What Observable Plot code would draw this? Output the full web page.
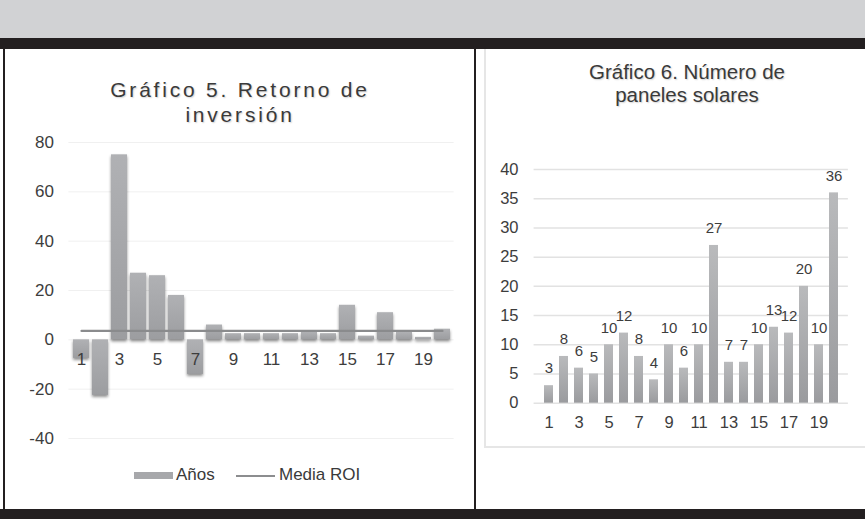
<!DOCTYPE html>
<html><head><meta charset="utf-8">
<script src="https://cdn.jsdelivr.net/npm/d3@7"></script>
<script src="https://cdn.jsdelivr.net/npm/@observablehq/plot@0.6"></script>
<style>
body{margin:0;width:865px;height:519px;position:relative;overflow:hidden;background:#fff;font-family:"Liberation Sans",Arial,sans-serif;color:#3d3d3d;}
.abs{position:absolute;}
.title{text-align:center;color:#3a3a3a;text-shadow:1px 1px 1.5px rgba(0,0,0,0.18);white-space:nowrap;}
</style></head><body>
<div class="abs" style="left:0;top:0;width:865px;height:38px;background:#d1d2d4"></div>
<div class="abs" style="left:0;top:38px;width:865px;height:11px;background:#231f20"></div>
<div class="abs" style="left:0;top:509px;width:865px;height:10px;background:#231f20"></div>
<div class="abs" style="left:3px;top:49px;width:2px;height:461px;background:#231f20"></div>
<div class="abs" style="left:474px;top:49px;width:2px;height:461px;background:#231f20"></div>
<div class="abs" style="left:484px;top:49px;width:400px;height:397px;border:2px solid #e6e6e6;border-top:none"></div>

<div class="abs title" style="left:5px;width:470px;top:77px;font-size:21px;line-height:25px;letter-spacing:2.8px">Gráfico 5. Retorno de<br>inversión</div>
<div class="abs title" style="left:486px;width:402px;top:60px;font-size:20.5px;line-height:23px">Gráfico 6. Número de<br>paneles solares</div>

<div id="left" class="abs" style="left:0;top:130px"></div>
<div id="right" class="abs" style="left:486px;top:130px"></div>

<div class="abs" style="left:134px;top:472px;width:39px;height:7px;background:#a7a8ab"></div>
<div class="abs" style="left:176px;top:465px;font-size:17px;line-height:20px;color:#3a3a3a">Años</div>
<div class="abs" style="left:236px;top:474.5px;width:39px;height:2px;background:#8c8d8f"></div>
<div class="abs" style="left:279px;top:465px;font-size:17px;line-height:20px;color:#3a3a3a">Media ROI</div>

<script>
const years = [1,2,3,4,5,6,7,8,9,10,11,12,13,14,15,16,17,18,19,20];
const roi = [-7.5,-22.5,75,27,26,18,-14,6,2.5,2.5,2.5,2.5,3,2.5,14,1.5,11,3,1,4.3];
const mediaROI = [3.6,3.6,3.6,3.6,3.6,3.6,3.6,3.6,3.6,3.6,3.6,3.6,3.6,3.6,3.6,3.6,3.6,3.6,3.6,3.6];
const panels = [3,8,6,5,10,12,8,4,10,6,10,27,7,7,10,13,12,20,10,36];
const xTickLabels = [1,3,5,7,9,11,13,15,17,19];
const yTicksLeft = [-40,-20,0,20,40,60,80];
const yTicksRight = [0,5,10,15,20,25,30,35,40];

const roiData = years.map((y,i)=>({year:y, roi:roi[i], media:mediaROI[i]}));
const panelData = years.map((y,i)=>({year:y, n:panels[i]}));

function addGrad(svg, id, c1, c2){
  const ns="http://www.w3.org/2000/svg";
  const defs=document.createElementNS(ns,"defs");
  defs.innerHTML=`<linearGradient id="${id}" x1="0" y1="0" x2="0" y2="1"><stop offset="0" stop-color="${c1}"/><stop offset="1" stop-color="${c2}"/></linearGradient>`;
  svg.insertBefore(defs, svg.firstChild);
}

const left = Plot.plot({
  width: 470, height: 330,
  marginTop: 12, marginBottom: 22, marginLeft: 68.4, marginRight: 16.4,
  style: {fontFamily: "'Liberation Sans', Arial, sans-serif", fontSize: "17px", color: "#3d3d3d", background: "transparent", overflow: "visible"},
  x: {type: "band", domain: years, paddingInner: 0.17, paddingOuter: 0.085, axis: null},
  y: {domain: [-40, 80], ticks: yTicksLeft, tickSize: 0, tickPadding: 15, label: null, tickFormat: d => String(d)},
  marks: [
    Plot.ruleY(yTicksLeft, {stroke: "#f0f0f0", strokeWidth: 1}),
    Plot.barY(roiData, {x: "year", y: "roi", fill: "url(#gradL)"}),
    Plot.lineY(roiData, {x: "year", y: "media", stroke: "#8a8b8d", strokeWidth: 2.2}),
    Plot.text(xTickLabels, {x: d => d, y: () => 0, dy: 20, fontSize: 17, fill: "#3d3d3d"})
  ]
});
addGrad(left, "gradL", "#b0b1b4", "#9c9da0");
left.querySelectorAll('g[aria-label="bar"]').forEach(g => g.style.filter = "drop-shadow(0px 2px 1.5px rgba(0,0,0,0.45))");
document.getElementById("left").appendChild(left);

const right = Plot.plot({
  width: 379, height: 310,
  marginTop: 39, marginBottom: 37.3, marginLeft: 47.6, marginRight: 17.1,
  style: {fontFamily: "'Liberation Sans', Arial, sans-serif", fontSize: "16.5px", color: "#3d3d3d", background: "transparent", overflow: "visible"},
  x: {type: "band", domain: years, paddingInner: 0.41, paddingOuter: 0.205, axis: null},
  y: {domain: [0, 40], ticks: yTicksRight, tickSize: 0, tickPadding: 15.6, label: null, tickFormat: d => String(d)},
  marks: [
    Plot.ruleY(yTicksRight, {stroke: "#e2e2e2", strokeWidth: 1.5}),
    Plot.barY(panelData, {x: "year", y: "n", fill: "url(#gradR)"}),
    Plot.text(panelData, {x: "year", y: "n", text: d => String(d.n), dy: -17, fontSize: 15, fill: "#3d3d3d"}),
    Plot.text(xTickLabels, {x: d => d, y: () => 0, dy: 20, fontSize: 16.5, fill: "#3d3d3d"})
  ]
});
addGrad(right, "gradR", "#b9babc", "#9a9b9e");
document.getElementById("right").appendChild(right);
</script>
</body></html>
